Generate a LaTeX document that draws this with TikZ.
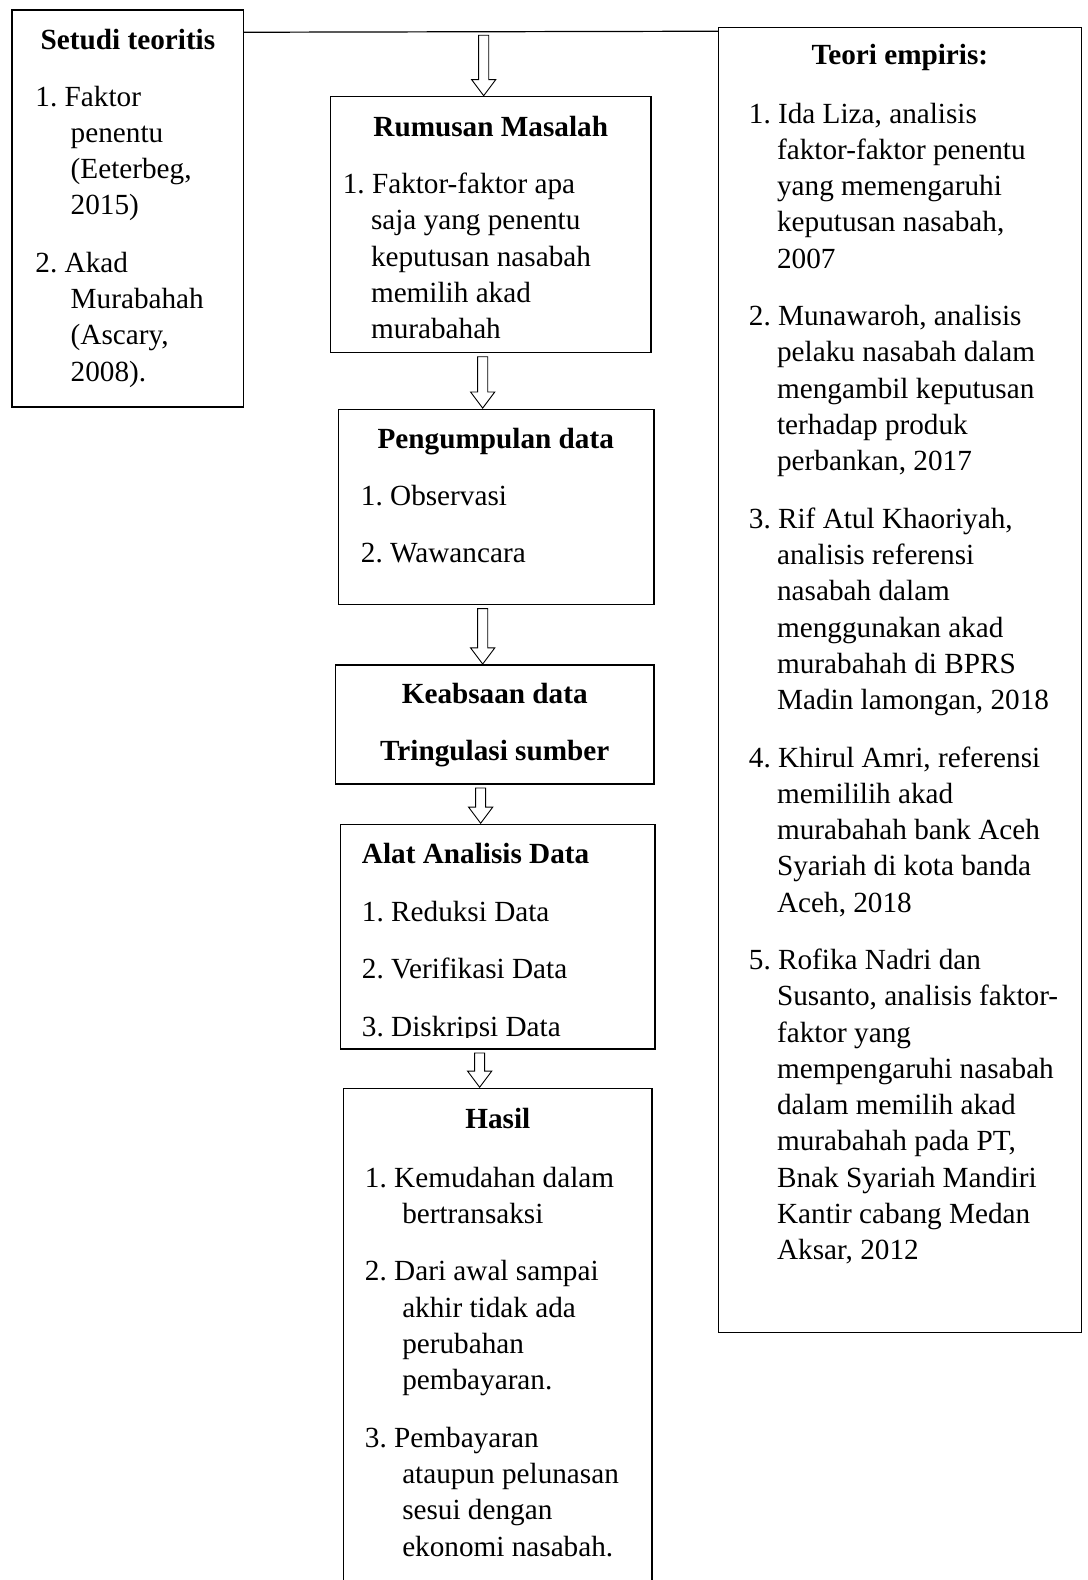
\documentclass[tikz,border=0pt]{standalone}
\usepackage{fontspec}
\setmainfont{Liberation Serif}
\usetikzlibrary{calc}

\newcommand{\teks}{\fontsize{29}{36}\selectfont\frenchspacing}
\newcommand{\lj}[1]{\hspace*{#1pt}}
% panah kosong ke bawah: #1 = x, #2 = dari, #3 = ke
\newcommand{\panah}[3]{%
  \draw[panahgaris] let \p1=(#1,0), \p2=#2, \p3=#3 in
    (\x1-5pt,\y2-4pt) -- (\x1+5pt,\y2-4pt) -- (\x1+5pt,\y3+17pt)
    -- (\x1+12pt,\y3+17pt) -- (\x1,\y3+1pt) -- (\x1-12pt,\y3+17pt)
    -- (\x1-5pt,\y3+17pt) -- cycle;}

\begin{document}
\begin{tikzpicture}[x=1pt, y=-1pt,
    kotak/.style={draw, line width=1.2pt, anchor=north west, inner sep=0pt, outer sep=0pt},
    judul/.style={anchor=base, inner sep=0pt, font=\teks\bfseries},
    isi/.style={anchor=north west, align=left, inner sep=0pt, font=\teks},
    garis/.style={line width=1.2pt},
    panahgaris/.style={line width=0.9pt, line join=miter}]
    \useasboundingbox (0,0) rectangle (1079,1568);

    % Setudi teoritis
    \node[kotak, minimum width=230pt, minimum height=394pt] (teoritis) at (12,10) {};
    \node[judul] (teoritisJdl) at (127,49) {Setudi teoritis};
    \node[isi] (teoritisIsi) at (35,79.8) {\strut 1. Faktor\\
        \lj{35}penentu\\ \lj{35}(Eeterbeg,\\ \lj{35}2015)\\[21pt]
        2. Akad\\ \lj{35}Murabahah\\ \lj{35}(Ascary,\\ \lj{35}2008).};

    % Teori empiris
    \node[kotak, minimum width=360pt, minimum height=1295pt] (empiris) at (713,27) {};
    \node[judul] (empirisJdl) at (893,64) {Teori empiris:};
    \node[isi] (empirisIsi) at (743,96.8) {\strut 1. Ida Liza, analisis\\
        \lj{28}faktor-faktor penentu\\ \lj{28}yang memengaruhi\\
        \lj{28}keputusan nasabah,\\ \lj{28}2007\\[21pt]
        2. Munawaroh, analisis\\ \lj{28}pelaku nasabah dalam\\
        \lj{28}mengambil keputusan\\ \lj{28}terhadap produk\\
        \lj{28}perbankan, 2017\\[21pt]
        3. Rif Atul Khaoriyah,\\ \lj{28}analisis referensi\\
        \lj{28}nasabah dalam\\ \lj{28}menggunakan akad\\
        \lj{28}murabahah di BPRS\\ \lj{28}Madin lamongan, 2018\\[21pt]
        4. Khirul Amri, referensi\\ \lj{28}memililih akad\\
        \lj{28}murabahah bank Aceh\\ \lj{28}Syariah di kota banda\\
        \lj{28}Aceh, 2018\\[21pt]
        5. Rofika Nadri dan\\ \lj{28}Susanto, analisis faktor-\\
        \lj{28}faktor yang\\ \lj{28}mempengaruhi nasabah\\
        \lj{28}dalam memilih akad\\ \lj{28}murabahah pada PT,\\
        \lj{28}Bnak Syariah Mandiri\\ \lj{28}Kantir cabang Medan\\
        \lj{28}Aksar, 2012};

    % garis atas
    \draw[garis] ([yshift=-22pt]teoritis.north east) -- ([yshift=-4pt]empiris.north west);
    \coordinate (cabang) at (480,31);

    % Rumusan Masalah
    \node[kotak, minimum width=318pt, minimum height=254pt] (rumusan) at (328,96) {};
    \node[judul] (rumusanJdl) at (487,135) {Rumusan Masalah};
    \node[isi] (rumusanIsi) at (340,166.8) {\strut 1. Faktor-faktor apa\\
        \lj{28}saja yang penentu\\ \lj{28}keputusan nasabah\\
        \lj{28}memilih akad\\ \lj{28}murabahah};

    % Pengumpulan data
    \node[kotak, minimum width=313pt, minimum height=194pt] (kumpul) at (336,406) {};
    \node[judul] (kumpulJdl) at (492,445) {Pengumpulan data};
    \node[isi] (kumpulIsi) at (358,475.8) {\strut 1. Observasi\\[21pt] 2. Wawancara};

    % Keabsaan data
    \node[kotak, minimum width=316pt, minimum height=118pt] (absah) at (333,660) {};
    \node[isi, anchor=north, align=center, font=\teks\bfseries] (absahIsi) at (491,672.8)
        {\strut Keabsaan data\\[21pt] Tringulasi sumber};

    % Alat Analisis Data
    \node[kotak, minimum width=312pt, minimum height=223pt] (alat) at (338,818) {};
    \begin{scope}
        \clip (alat.north west) rectangle ([yshift=11pt]alat.south east);
        \node[isi] (alatIsi) at (359,831.8) {\strut\textbf{Alat Analisis Data}\\[21pt]
            1. Reduksi Data\\[21pt] 2. Verifikasi Data\\[21pt] 3. Diskripsi Data};
    \end{scope}

    % Hasil
    \node[anchor=north west, inner sep=0pt, outer sep=0pt, minimum width=306pt,
        minimum height=488pt] (hasil) at (341,1080) {};
    \draw[garis] (hasil.south west) |- (hasil.north east) -- (hasil.south east);
    \node[judul] (hasilJdl) at (494,1120) {Hasil};
    \node[isi] (hasilIsi) at (362,1152.8) {\strut 1. Kemudahan dalam\\
        \lj{37}bertransaksi\\[21pt]
        2. Dari awal sampai\\ \lj{37}akhir tidak ada\\
        \lj{37}perubahan\\ \lj{37}pembayaran.\\[21pt]
        3. Pembayaran\\ \lj{37}ataupun pelunasan\\
        \lj{37}sesui dengan\\ \lj{37}ekonomi nasabah.};

    % Panah
    \panah{480}{(cabang)}{(rumusan.north)}
    \panah{479}{(rumusan.south)}{(kumpul.north)}
    \panah{479}{(kumpul.south)}{(absah.north)}
    \panah{477}{(absah.south)}{(alat.north)}
    \panah{476}{(alat.south)}{(hasil.north)}
\end{tikzpicture}
\end{document}
